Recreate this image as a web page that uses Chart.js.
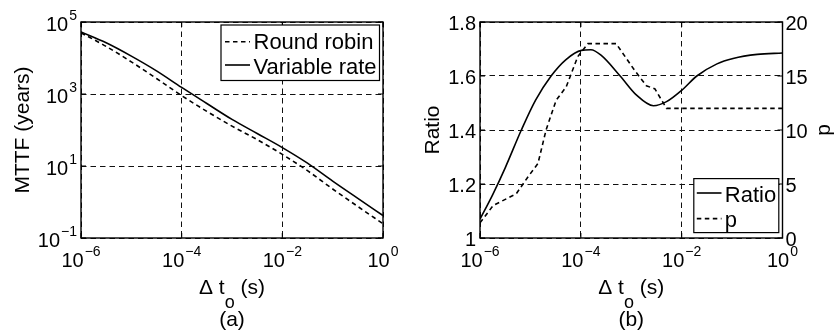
<!DOCTYPE html>
<html>
<head>
<meta charset="utf-8">
<script src="https://cdn.jsdelivr.net/npm/chart.js@4.4.1/dist/chart.umd.min.js"></script>
<style>
html, body { margin: 0; padding: 0; background: #fff; }
#wrap { position: relative; width: 837px; height: 331px; }
canvas { position: absolute; top: 0; }
</style>
</head>
<body>
<div id="wrap">
  <canvas id="chartA" width="418" height="331" style="left:0"></canvas>
  <canvas id="chartB" width="419" height="331" style="left:418px"></canvas>
</div>
<script>
// (a) MTTF, sample points given as log10 of delta t_o
var logTa = [-6, -5.5, -5, -4.5, -4, -3.5, -3, -2.5, -2, -1.5, -1, -0.5, 0];
var roundRobin   = [5.0e4, 2.1e4, 7.8e3, 2.7e3, 900, 330, 128, 54, 21, 7.4, 2.3, 0.75, 0.25];
var variableRate = [5.3e4, 2.65e4, 1.13e4, 4.4e3, 1520, 545, 197, 80, 32.5, 12, 3.8, 1.26, 0.42];

// (b) ratio and p
var logTr = [-6, -5.75, -5.5, -5.18, -4.9, -4.59, -4.3, -3.99, -3.8, -3.6, -3.22, -2.9, -2.56, -2.3, -2, -1.7, -1.3, -0.98, -0.5, 0];
var ratioVals = [1.07, 1.16, 1.26, 1.40, 1.51, 1.60, 1.66, 1.695, 1.697, 1.677, 1.60, 1.53, 1.49, 1.505, 1.547, 1.60, 1.645, 1.665, 1.68, 1.685];
var logTp = [-6, -5.74, -5.28, -5.05, -4.85, -4.69, -4.49, -4.29, -4.06, -3.86, -3.30, -2.93, -2.70, -2.53, -2.30, 0];
var pVals = [1.4, 3.0, 4.1, 5.65, 6.9, 10.0, 12.75, 14.0, 16.8, 18, 18, 15.5, 14.1, 13.8, 12, 12];

// ticks
var xTicks = [1e-6, 1e-4, 1e-2, 1];
var xTickExp = ['\u22126', '\u22124', '\u22122', '0'];
var mttfTicks = [1e5, 1e3, 1e1, 1e-1];
var mttfTickExp = ['5', '3', '1', '\u22121'];
var ratioTicks = [1, 1.2, 1.4, 1.6, 1.8];
var ratioTickLabels = ['1', '1.2', '1.4', '1.6', '1.8'];
var pTicks = [0, 5, 10, 15, 20];
var pTickLabels = ['0', '5', '10', '15', '20'];

var FAM = '"Liberation Sans", Arial, sans-serif';
var FONT = '20px ' + FAM;
var TITLE = '21px ' + FAM;
var LEG = '22px ' + FAM;
var SUP = '14px ' + FAM;
var SUBO = '18px ' + FAM;

function pts(logs, vals) {
  return logs.map(function(e, i) { return { x: Math.pow(10, e), y: vals[i] }; });
}

function powLabel(ctx, exp, x, y, align) {
  ctx.font = FONT;
  var wb = ctx.measureText('10').width;
  ctx.font = SUP;
  var we = ctx.measureText(exp).width;
  var w = wb + we + 1;
  var x0 = align === 'center' ? x - w / 2 : (align === 'right' ? x - w : x);
  ctx.textAlign = 'left';
  ctx.textBaseline = 'alphabetic';
  ctx.font = FONT;
  ctx.fillText('10', x0, y);
  ctx.font = SUP;
  ctx.fillText(exp, x0 + wb + 1, y - 11);
}

function xTitle(ctx, cx, tag) {
  var parts = [['\u0394 t', TITLE, 0], ['o', SUBO, 14], [' (s)', TITLE, 0]];
  var w = 0;
  parts.forEach(function(p) { ctx.font = p[1]; p.push(ctx.measureText(p[0]).width); w += p[3]; });
  var x = cx - w / 2;
  ctx.textAlign = 'left';
  ctx.textBaseline = 'alphabetic';
  parts.forEach(function(p) { ctx.font = p[1]; ctx.fillText(p[0], x, 294 + p[2]); x += p[3]; });
  ctx.font = TITLE;
  ctx.textAlign = 'center';
  ctx.fillText(tag, cx, 326);
}

function yTitle(ctx, text, x, y) {
  ctx.save();
  ctx.translate(x, y);
  ctx.rotate(-Math.PI / 2);
  ctx.font = TITLE;
  ctx.textAlign = 'center';
  ctx.textBaseline = 'alphabetic';
  ctx.fillText(text, 0, 0);
  ctx.restore();
}

function innerTicks(ctx, a, xs, ys) {
  ctx.setLineDash([]);
  ctx.strokeStyle = '#000';
  ctx.lineWidth = 1.1;
  ctx.beginPath();
  xs.forEach(function(px) { ctx.moveTo(px, a.bottom); ctx.lineTo(px, a.bottom - 5); ctx.moveTo(px, a.top); ctx.lineTo(px, a.top + 5); });
  ys.forEach(function(py) { ctx.moveTo(a.left, py); ctx.lineTo(a.left + 5, py); ctx.moveTo(a.right, py); ctx.lineTo(a.right - 5, py); });
  ctx.stroke();
  ctx.lineWidth = 1.4;
  ctx.strokeRect(a.left, a.top, a.right - a.left, a.bottom - a.top);
}

function legendBox(ctx, chart, x, y, w, h, rows) {
  ctx.fillStyle = '#fff';
  ctx.fillRect(x, y, w, h);
  ctx.strokeStyle = '#000';
  ctx.lineWidth = 1.2;
  ctx.setLineDash([]);
  ctx.strokeRect(x, y, w, h);
  rows.forEach(function(r) {
    var ds = chart.data.datasets[r.i];
    ctx.setLineDash(ds.borderDash || []);
    ctx.lineWidth = ds.borderWidth;
    ctx.beginPath();
    ctx.moveTo(x + r.x1, y + r.ly);
    ctx.lineTo(x + r.x2, y + r.ly);
    ctx.stroke();
    ctx.setLineDash([]);
    ctx.fillStyle = '#000';
    ctx.font = LEG;
    ctx.textAlign = 'left';
    ctx.textBaseline = 'alphabetic';
    ctx.fillText(ds.label, x + r.tx, y + r.ty);
  });
}

var gridOpts = { color: '#111', lineWidth: 1, drawTicks: false };
var borderOpts = { display: false, dash: [5.5, 4] };

var decorA = {
  id: 'decorA',
  afterDraw: function(chart) {
    var ctx = chart.ctx, a = chart.chartArea, sx = chart.scales.x, sy = chart.scales.y;
    ctx.save();
    innerTicks(ctx, a, xTicks.map(function(v) { return sx.getPixelForValue(v); }),
      mttfTicks.map(function(v) { return sy.getPixelForValue(v); }));
    ctx.fillStyle = '#000';
    xTicks.forEach(function(v, i) { powLabel(ctx, xTickExp[i], sx.getPixelForValue(v), a.bottom + 29, 'center'); });
    mttfTicks.forEach(function(v, i) { powLabel(ctx, mttfTickExp[i], a.left - 4, sy.getPixelForValue(v) + 9, 'right'); });
    yTitle(ctx, 'MTTF (years)', 29, (a.top + a.bottom) / 2);
    xTitle(ctx, (a.left + a.right) / 2, '(a)');
    legendBox(ctx, chart, a.right - 162, a.top + 3, 158.5, 55.5, [
      { i: 0, x1: 4, x2: 29, ly: 16.7, tx: 32.5, ty: 23.8 },
      { i: 1, x1: 4, x2: 29, ly: 40, tx: 32.5, ty: 49.3 }
    ]);
    ctx.restore();
  }
};

var decorB = {
  id: 'decorB',
  afterDraw: function(chart) {
    var ctx = chart.ctx, a = chart.chartArea, sx = chart.scales.x, sy = chart.scales.y, sp = chart.scales.y1;
    ctx.save();
    innerTicks(ctx, a, xTicks.map(function(v) { return sx.getPixelForValue(v); }),
      ratioTicks.map(function(v) { return sy.getPixelForValue(v); }));
    ctx.fillStyle = '#000';
    xTicks.forEach(function(v, i) { powLabel(ctx, xTickExp[i], sx.getPixelForValue(v), a.bottom + 29, 'center'); });
    ctx.font = FONT;
    ctx.textBaseline = 'alphabetic';
    ctx.textAlign = 'right';
    ratioTicks.forEach(function(v, i) { ctx.fillText(ratioTickLabels[i], a.left - 4, sy.getPixelForValue(v) + 7.5); });
    ctx.textAlign = 'left';
    pTicks.forEach(function(v, i) { ctx.fillText(pTickLabels[i], a.right + 3, sp.getPixelForValue(v) + 8); });
    yTitle(ctx, 'Ratio', 20.5, (a.top + a.bottom) / 2);
    yTitle(ctx, 'p', 411.5, (a.top + a.bottom) / 2);
    xTitle(ctx, (a.left + a.right) / 2, '(b)');
    legendBox(ctx, chart, a.right - 88.7, a.bottom - 59.4, 85, 54, [
      { i: 0, x1: 3, x2: 27.7, ly: 14.4, tx: 31, ty: 23.6 },
      { i: 1, x1: 3, x2: 27.7, ly: 40, tx: 31, ty: 48.7 }
    ]);
    ctx.restore();
  }
};

function setTicks(list) {
  return function(scale) { scale.ticks = list.map(function(v) { return { value: v }; }); };
}

new Chart(document.getElementById('chartA').getContext('2d'), {
  type: 'line',
  data: {
    datasets: [{
      label: 'Round robin',
      data: pts(logTa, roundRobin),
      borderColor: '#000',
      borderWidth: 1.6,
      borderDash: [4.5, 3.5],
      pointRadius: 0,
      cubicInterpolationMode: 'monotone'
    }, {
      label: 'Variable rate',
      data: pts(logTa, variableRate),
      borderColor: '#000',
      borderWidth: 1.6,
      pointRadius: 0,
      cubicInterpolationMode: 'monotone'
    }]
  },
  options: {
    responsive: false,
    animation: false,
    layout: { padding: { left: 0, top: 22, right: 35, bottom: 0 } },
    plugins: { legend: { display: false }, tooltip: { enabled: false } },
    scales: {
      x: {
        type: 'logarithmic', min: 1e-6, max: 1,
        afterBuildTicks: setTicks(xTicks),
        afterFit: function(s) { s.height = 93; },
        ticks: { display: false }, grid: gridOpts, border: borderOpts
      },
      y: {
        type: 'logarithmic', min: 0.1, max: 1e5,
        afterBuildTicks: setTicks(mttfTicks),
        afterFit: function(s) { s.width = 81; },
        ticks: { display: false }, grid: gridOpts, border: borderOpts
      }
    }
  },
  plugins: [decorA]
});

new Chart(document.getElementById('chartB').getContext('2d'), {
  type: 'line',
  data: {
    datasets: [{
      label: 'Ratio',
      data: pts(logTr, ratioVals),
      borderColor: '#000',
      borderWidth: 1.6,
      pointRadius: 0,
      cubicInterpolationMode: 'monotone',
      yAxisID: 'y'
    }, {
      label: 'p',
      data: pts(logTp, pVals),
      borderColor: '#000',
      borderWidth: 1.6,
      borderDash: [4.5, 3.5],
      pointRadius: 0,
      tension: 0,
      yAxisID: 'y1'
    }]
  },
  options: {
    responsive: false,
    animation: false,
    layout: { padding: { left: 0, top: 22, right: 0, bottom: 0 } },
    plugins: { legend: { display: false }, tooltip: { enabled: false } },
    scales: {
      x: {
        type: 'logarithmic', min: 1e-6, max: 1,
        afterBuildTicks: setTicks(xTicks),
        afterFit: function(s) { s.height = 93; },
        ticks: { display: false }, grid: gridOpts, border: borderOpts
      },
      y: {
        type: 'linear', position: 'left', min: 1, max: 1.8,
        afterBuildTicks: setTicks(ratioTicks),
        afterFit: function(s) { s.width = 62; },
        ticks: { display: false }, grid: gridOpts, border: borderOpts
      },
      y1: {
        type: 'linear', position: 'right', min: 0, max: 20,
        afterBuildTicks: setTicks(pTicks),
        afterFit: function(s) { s.width = 54.5; },
        ticks: { display: false }, grid: { display: false, drawTicks: false }, border: { display: false }
      }
    }
  },
  plugins: [decorB]
});
</script>
</body>
</html>
